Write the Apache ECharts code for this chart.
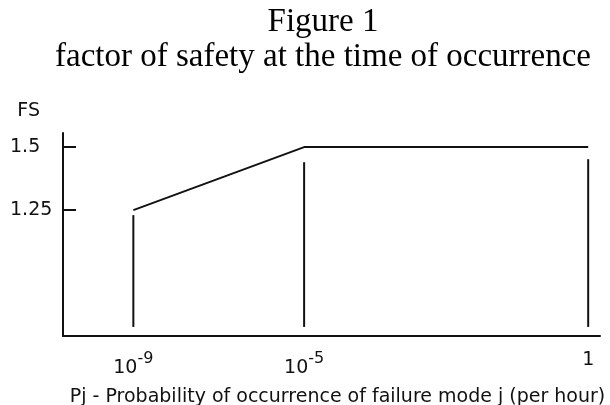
<!DOCTYPE html>
<html>
<head>
<meta charset="utf-8">
<script src="https://cdn.jsdelivr.net/npm/echarts@6/dist/echarts.min.js"></script>
<style>
  html, body { margin: 0; padding: 0; background: #fff; }
  #chart { width: 610px; height: 405px; }
</style>
</head>
<body>
<div id="chart"></div>
<script>
// schematic x positions (axis runs 0..100), labels for them
var xPos = [13.1, 44.9, 97.8];
var xLabels = ['10{sup|-9}', '10{sup|-5}', '1'];
// factor of safety at each point
var fsValues = [1.25, 1.5, 1.5];
var yTicks = [1.25, 1.5];
// vertical drop lines: top of each line, common bottom
var dropTop = [1.23, 1.44, 1.452];
var dropBottom = 0.786;

var sans = 'DejaVu Sans';
var ink = '#111';

var series = [{
    type: 'line',
    data: xPos.map(function (x, i) { return [x, fsValues[i]]; }),
    symbol: 'none',
    lineStyle: { color: ink, width: 2 },
    silent: true
}];
xPos.forEach(function (x, i) {
    series.push({
        type: 'line',
        data: [[x, dropBottom], [x, dropTop[i]]],
        symbol: 'none',
        lineStyle: { color: ink, width: 2 },
        silent: true
    });
});

var myChart = echarts.init(document.getElementById('chart'));
myChart.setOption({
    backgroundColor: '#fff',
    animation: false,
    graphic: [{
        type: 'text',
        x: 323,
        y: 5,
        style: {
            text: 'Figure 1\nfactor of safety at the time of occurrence',
            font: '33px "Liberation Serif"',
            lineHeight: 35,
            align: 'center',
            verticalAlign: 'top',
            fill: '#000'
        }
    }],
    grid: { left: 63, right: 10, top: 133, bottom: 69, containLabel: false, outerBoundsMode: 'none' },
    xAxis: {
        type: 'value',
        min: 0,
        max: 100,
        splitLine: { show: false },
        axisLine: { lineStyle: { color: ink, width: 2 } },
        axisTick: { show: false },
        axisLabel: {
            customValues: xPos,
            margin: 15,
            color: ink,
            fontFamily: sans,
            fontSize: 19,
            formatter: function (v) {
                var i = xPos.indexOf(v);
                return i < 0 ? '' : xLabels[i];
            },
            rich: {
                sup: { fontFamily: sans, fontSize: 16, color: ink, padding: [0, 0, 18, 0] }
            }
        },
        name: 'Pj - Probability of occurrence of failure mode j (per hour)',
        nameLocation: 'middle',
        nameGap: 52,
        nameTextStyle: { color: ink, fontFamily: sans, fontSize: 19, padding: [0, 0, 0, 12] }
    },
    yAxis: {
        type: 'value',
        min: 0.75,
        max: 1.556,
        splitLine: { show: false },
        axisLine: { show: true, lineStyle: { color: ink, width: 2 } },
        axisTick: {
            show: true,
            inside: true,
            length: 13,
            customValues: yTicks,
            lineStyle: { color: ink, width: 2 }
        },
        axisLabel: {
            customValues: yTicks,
            align: 'left',
            margin: 53,
            color: ink,
            fontFamily: sans,
            fontSize: 19
        },
        name: 'FS',
        nameLocation: 'end',
        nameGap: 12,
        nameTextStyle: { color: ink, fontFamily: sans, fontSize: 19, align: 'right', padding: [0, 23, 0, 0] }
    },
    series: series
});
</script>
</body>
</html>
